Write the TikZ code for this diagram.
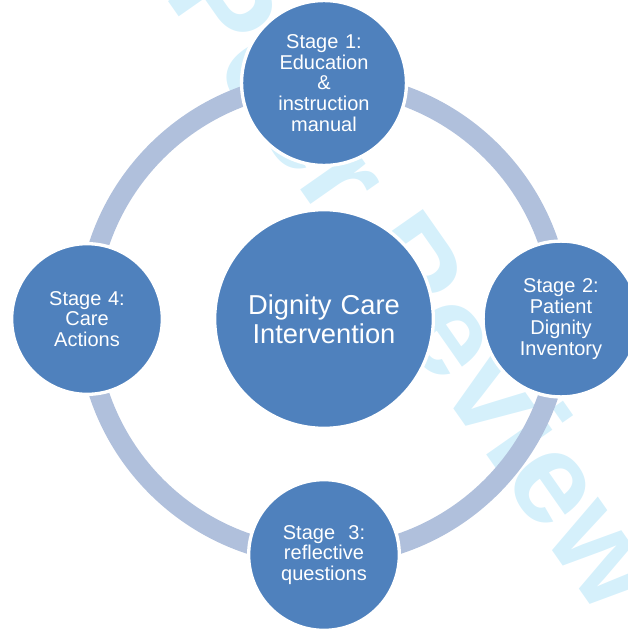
\documentclass[tikz,border=0pt]{standalone}
\usepackage{fontspec}
\setmainfont{Liberation Sans}
\definecolor{stageblue}{HTML}{4F81BD}
\definecolor{ringblue}{HTML}{B0C0DC}
\definecolor{markcyan}{HTML}{D5F0FB}
\begin{document}
\begin{tikzpicture}[x=0.75pt,y=-0.75pt,
	stage/.style={circle, fill=stageblue, draw=white, line width=2.5pt,
		minimum size=113pt, inner sep=0pt, text width=100pt, align=center,
		text=white, font=\fontsize{15}{15.6}\selectfont},
	hub/.style={stage, minimum size=164pt, text width=150pt,
		font=\fontsize{20.5}{21.75}\selectfont}]

% coordinates %{{{2

	\useasboundingbox (0,0) rectangle (628,632);
	\coordinate (C) at (324,319);
	\coordinate (S1) at (324,83);
	\coordinate (S2) at (561,319);
	\coordinate (S3) at (324,555);
	\coordinate (S4) at (87,319);

% watermark %{{{2

	\begin{scope}
		\clip (0,0) rectangle (628,632);
		\node[rotate=-55, text=markcyan, font=\fontsize{97}{97}\selectfont\bfseries]
			(mark) at (350,180) {For Peer Review};
	\end{scope}

% ring %{{{2

	\draw[ringblue, line width=15pt] (C) circle[radius=177.75pt];

% circles %{{{2

	\node[hub] (centre) at (C) {Dignity Care\\Intervention};
	\node[stage] (stageone) at (S1) {Stage 1:\\Education\\\&\\instruction\\manual};
	\node[stage] (stagetwo) at (S2) {Stage 2:\\Patient\\Dignity\\Inventory};
	\node[stage] (stagethree) at (S3) {Stage\ \ 3:\\reflective\\questions};
	\node[stage] (stagefour) at (S4) {Stage 4:\\Care\\Actions};

% closing %{{{2

\end{tikzpicture}
\end{document}
